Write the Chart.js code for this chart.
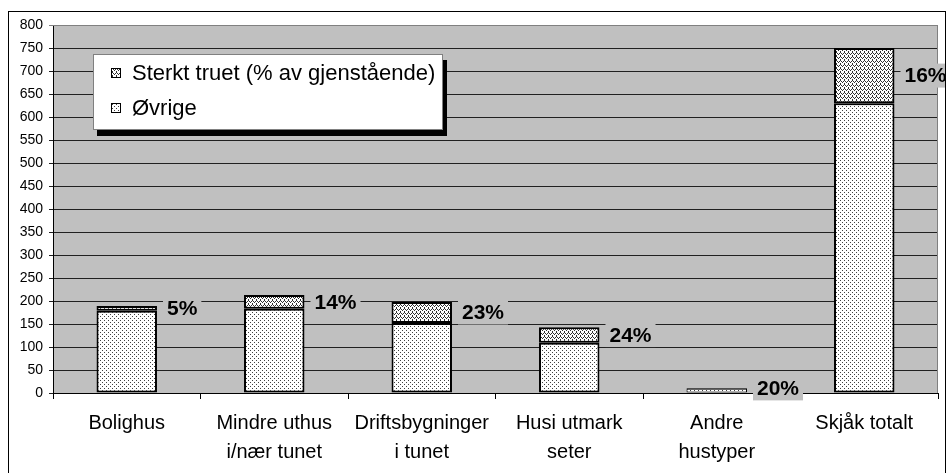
<!DOCTYPE html>
<html>
<head>
<meta charset="utf-8">
<script src="https://cdn.jsdelivr.net/npm/chart.js@4.4.1/dist/chart.umd.min.js"></script>
<style>
  body { margin: 0; background: #fff; }
  #wrap { position: relative; width: 946px; height: 473px; }
  #frame { position: absolute; left: 8px; top: 11px; width: 936px; height: 470px; border: 1px solid #000; pointer-events: none; }
  canvas { position: absolute; left: 0; top: 0; }
</style>
</head>
<body>
<div id="wrap">
  <canvas id="chart" width="946" height="473"></canvas>
  <div id="frame"></div>
</div>
<script>
// Data
const categories = [
    ['Bolighus'],
    ['Mindre uthus', 'i/nær tunet'],
    ['Driftsbygninger', 'i tunet'],
    ['Husi utmark', 'seter'],
    ['Andre', 'hustyper'],
    ['Skjåk totalt']
];
const ovrige = [179, 183, 152, 109, 9, 630];
const sterktTruet = [10, 30, 46, 34, 2, 120];
const percentLabels = ['5%', '14%', '23%', '24%', '20%', '16%'];
const yTicksMax = 800;
const yTickStep = 50;

const FONT = '"Liberation Sans", Arial, sans-serif';

// Fill patterns (like the old Excel hatching)
function dotPattern() {
    const c = document.createElement('canvas');
    c.width = 4; c.height = 4;
    const g = c.getContext('2d');
    g.fillStyle = '#ffffff';
    g.fillRect(0, 0, 4, 4);
    g.fillStyle = '#404040';
    g.fillRect(0, 0, 1, 1);
    g.fillRect(2, 2, 1, 1);
    return g.createPattern(c, 'repeat');
}

function wavePattern() {
    const c = document.createElement('canvas');
    c.width = 4; c.height = 4;
    const g = c.getContext('2d');
    g.fillStyle = '#ffffff';
    g.fillRect(0, 0, 4, 4);
    g.fillStyle = '#303030';
    g.fillRect(0, 0, 1, 1);
    g.fillRect(1, 1, 1, 1);
    g.fillRect(3, 1, 1, 1);
    g.fillRect(2, 2, 1, 1);
    g.fillRect(0, 3, 1, 1);
    return g.createPattern(c, 'repeat');
}

const dots = dotPattern();
const waves = wavePattern();

// thin outline for very small segments so they don't turn solid black
function barBorder(ctx) {
    const v = ctx.raw;
    return v !== undefined && v < 10 ? 1 : 2;
}

// Gray plot background and border
const plotBackground = {
    id: 'plotBackground',
    beforeDraw(chart) {
        const a = chart.chartArea;
        const ctx = chart.ctx;
        ctx.save();
        ctx.fillStyle = '#c0c0c0';
        ctx.fillRect(a.left, a.top, a.right - a.left, a.bottom - a.top);
        ctx.restore();
    },
    afterDatasetsDraw(chart) {
        const a = chart.chartArea;
        const ctx = chart.ctx;
        ctx.save();
        ctx.strokeStyle = '#808080';
        ctx.lineWidth = 1;
        ctx.beginPath();
        ctx.moveTo(a.left, a.top + 0.5);
        ctx.lineTo(a.right - 0.5, a.top + 0.5);
        ctx.lineTo(a.right - 0.5, a.bottom);
        ctx.stroke();
        ctx.restore();
    }
};

// Percent labels to the right of each bar, on a gray box
const percentPlugin = {
    id: 'percentPlugin',
    afterDatasetsDraw(chart) {
        const ctx = chart.ctx;
        const meta = chart.getDatasetMeta(1);
        ctx.save();
        ctx.font = 'bold 21px ' + FONT;
        ctx.textBaseline = 'middle';
        meta.data.forEach((bar, i) => {
            const text = percentLabels[i];
            const w = ctx.measureText(text).width;
            const x = bar.x + bar.width / 2 + 10;
            const y = (bar.y + bar.base) / 2;
            ctx.fillStyle = '#c0c0c0';
            ctx.fillRect(x - 4, y - 12, w + 8, 24);
            ctx.fillStyle = '#000';
            ctx.fillText(text, x, y + 1);
        });
        ctx.restore();
    }
};

// Floating legend box with shadow
const boxLegend = {
    id: 'boxLegend',
    afterDraw(chart) {
        const a = chart.chartArea;
        const ctx = chart.ctx;
        const left = a.left + 40;
        const top = a.top + 29;
        const w = 350;
        const h = 76;
        ctx.save();
        ctx.fillStyle = '#000';
        ctx.fillRect(left + 4, top + 6, w, h);
        ctx.fillStyle = '#fff';
        ctx.fillRect(left, top, w, h);
        ctx.strokeStyle = '#808080';
        ctx.lineWidth = 1;
        ctx.strokeRect(left + 0.5, top + 0.5, w - 1, h - 1);

        const items = [chart.data.datasets[1], chart.data.datasets[0]];
        ctx.font = '22px ' + FONT;
        ctx.textBaseline = 'middle';
        items.forEach((ds, i) => {
            const cy = top + 19 + i * 35;
            ctx.fillStyle = ds.backgroundColor;
            ctx.fillRect(left + 18, cy - 5, 10, 10);
            ctx.strokeStyle = '#000';
            ctx.strokeRect(left + 18.5, cy - 4.5, 9, 9);
            ctx.fillStyle = '#000';
            ctx.fillText(ds.label, left + 39, cy + 1);
        });
        ctx.restore();
    }
};

const chart = new Chart(document.getElementById('chart').getContext('2d'), {
    type: 'bar',
    data: {
        labels: categories,
        datasets: [
            {
                label: 'Øvrige',
                data: ovrige,
                backgroundColor: dots,
                borderColor: '#000',
                borderWidth: barBorder,
                borderSkipped: false
            },
            {
                label: 'Sterkt truet (% av gjenstående)',
                data: sterktTruet,
                backgroundColor: waves,
                borderColor: '#000',
                borderWidth: barBorder,
                borderSkipped: false
            }
        ]
    },
    options: {
        responsive: false,
        animation: false,
        layout: { padding: { left: 0, top: 25, right: 8, bottom: 0 } },
        plugins: {
            legend: { display: false },
            tooltip: { enabled: false }
        },
        datasets: {
            bar: { categoryPercentage: 1, barPercentage: 0.41 }
        },
        scales: {
            x: {
                stacked: true,
                afterFit(scale) { scale.height = 80; },
                border: { color: '#000', width: 1 },
                grid: {
                    offset: true,
                    drawOnChartArea: false,
                    tickLength: 6,
                    color: '#000'
                },
                ticks: {
                    color: '#000',
                    padding: 10,
                    maxRotation: 0,
                    autoSkip: false,
                    font: { family: FONT, size: 20, lineHeight: 1.45 }
                }
            },
            y: {
                stacked: true,
                min: 0,
                max: yTicksMax,
                afterFit(scale) { scale.width = 53; },
                border: { color: '#000', width: 1 },
                grid: {
                    color: (c) => c.tick && c.tick.value === yTicksMax ? '#808080' : '#202020',
                    tickLength: 4,
                    lineWidth: 1
                },
                ticks: {
                    stepSize: yTickStep,
                    color: '#000',
                    padding: 6,
                    font: { family: FONT, size: 14 }
                }
            }
        }
    },
    plugins: [plotBackground, percentPlugin, boxLegend]
});
</script>
</body>
</html>
